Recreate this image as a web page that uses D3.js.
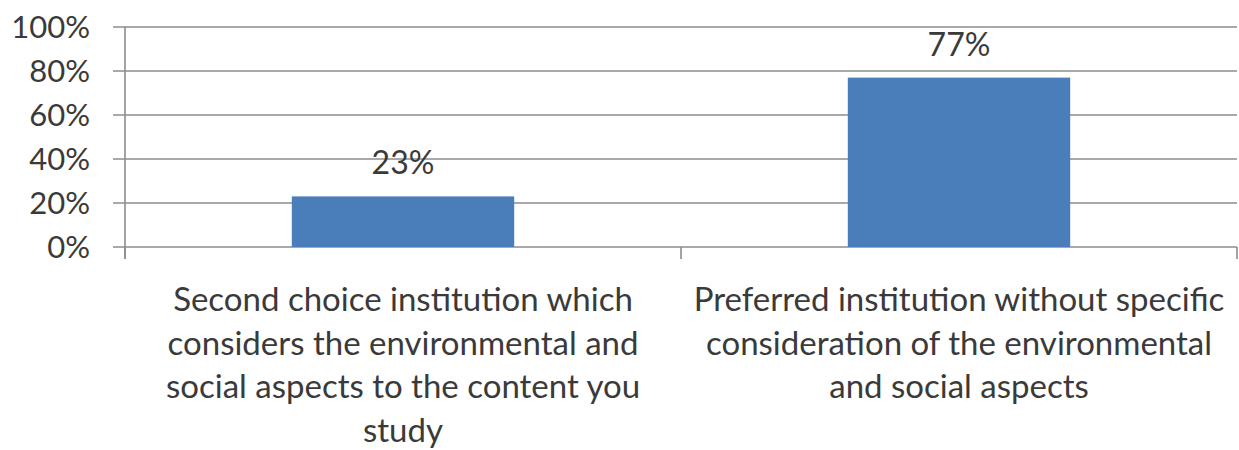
<!DOCTYPE html>
<html>
<head>
<meta charset="utf-8">
<script src="https://cdn.jsdelivr.net/npm/d3@7"></script>
<style>
  html, body { margin: 0; padding: 0; background: #fff; }
  svg { display: block; }
  text { font-family: Lato, "Liberation Sans", sans-serif; fill: #3a3a3a; }
</style>
</head>
<body>
<svg id="chart" width="1239" height="450"></svg>
<script>
// Survey shares for the two institution choices
const categories = [
  ["Second choice institution which", "considers the environmental and", "social aspects to the content you", "study"],
  ["Preferred institution without specific", "consideration of the environmental", "and social aspects"]
];
const values = [0.23, 0.77];
const valueLabels = ["23%", "77%"];
const yTicks = [0, 0.2, 0.4, 0.6, 0.8, 1.0];
const yTickLabels = ["0%", "20%", "40%", "60%", "80%", "100%"];

const svg = d3.select("#chart");
const margin = { left: 125, right: 2, top: 27, bottom: 203 };
const width = 1239 - margin.left - margin.right;
const height = 450 - margin.top - margin.bottom;

const g = svg.append("g").attr("transform", `translate(${margin.left},${margin.top})`);

const x = d3.scaleBand().domain(d3.range(values.length)).range([0, width]).paddingInner(0.6).paddingOuter(0.3);
const y = d3.scaleLinear().domain([0, 1]).range([height, 0]);

// Horizontal gridlines, extended slightly left of the axis as tick marks
g.append("g")
  .selectAll("line")
  .data(yTicks)
  .join("line")
  .attr("x1", -12).attr("x2", width)
  .attr("y1", d => y(d)).attr("y2", d => y(d))
  .attr("stroke", "#8c8c8c").attr("stroke-width", 1.6);

// Y tick labels
g.append("g")
  .selectAll("text")
  .data(yTicks)
  .join("text")
  .attr("x", -35)
  .attr("y", d => y(d))
  .attr("dy", "0.36em")
  .attr("text-anchor", "end")
  .style("font-size", "31px")
  .text((d, i) => yTickLabels[i]);

// Vertical axis line
g.append("line")
  .attr("x1", 0).attr("x2", 0)
  .attr("y1", y(1)).attr("y2", height + 12)
  .attr("stroke", "#8c8c8c").attr("stroke-width", 1.6);

// Category separator ticks below the baseline
const sepX = [0, width / 2, width];
g.append("g")
  .selectAll("line")
  .data(sepX)
  .join("line")
  .attr("x1", d => d).attr("x2", d => d)
  .attr("y1", height).attr("y2", height + 12)
  .attr("stroke", "#8c8c8c").attr("stroke-width", 1.6);

// Bars
g.append("g")
  .selectAll("rect")
  .data(values)
  .join("rect")
  .attr("x", (d, i) => x(i))
  .attr("width", x.bandwidth())
  .attr("y", d => y(d))
  .attr("height", d => height - y(d))
  .attr("fill", "#4a7ebb");

// Value labels above bars
g.append("g")
  .selectAll("text")
  .data(values)
  .join("text")
  .attr("x", (d, i) => x(i) + x.bandwidth() / 2)
  .attr("y", d => y(d) - 22)
  .attr("text-anchor", "middle")
  .style("font-size", "32px")
  .text((d, i) => valueLabels[i]);

// Multi-line category labels
const labelGroups = g.append("g")
  .selectAll("text")
  .data(categories)
  .join("text")
  .attr("text-anchor", "middle")
  .style("font-size", "33px")
  .attr("transform", (d, i) => `translate(${x(i) + x.bandwidth() / 2},${height + 64})`);

labelGroups.selectAll("tspan")
  .data(d => d)
  .join("tspan")
  .attr("x", 0)
  .attr("y", (d, j) => j * 43.5)
  .text(d => d);
</script>
</body>
</html>
